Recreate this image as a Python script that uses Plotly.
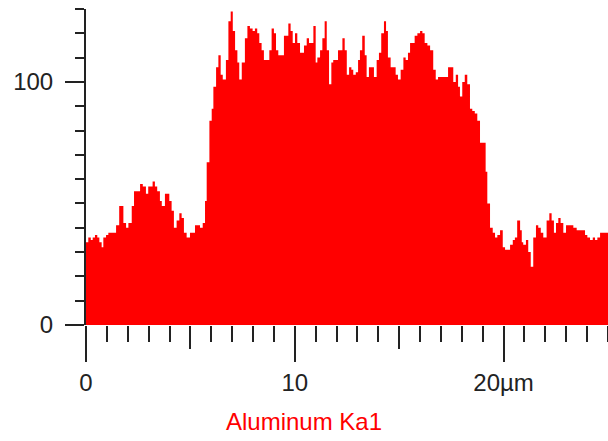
import plotly.graph_objects as go

# Line-scan profile: start position of each step (µm) and counts
position_um = [0.00,0.11,0.23,0.32,0.43,0.54,0.64,0.75,0.83,0.96,1.07,1.28,1.44,1.59,1.79,1.92,2.03,2.19,2.30,2.59,
               2.72,2.87,2.98,3.19,3.30,3.41,3.54,3.63,3.78,3.99,4.10,4.21,4.34,4.47,4.58,4.69,4.82,4.98,5.22,5.46,
               5.59,5.70,5.78,5.91,6.02,6.10,6.23,6.34,6.45,6.55,6.70,6.82,6.93,7.03,7.14,7.25,7.34,7.46,7.61,7.73,
               7.85,7.98,8.09,8.20,8.30,8.41,8.52,8.78,8.89,9.00,9.10,9.21,9.48,9.69,9.80,9.90,10.01,10.12,10.25,10.44,
               10.57,10.68,10.89,11.00,11.08,11.21,11.32,11.43,11.53,11.64,11.75,11.84,12.07,12.28,12.39,12.49,12.60,12.71,12.80,12.92,
               13.03,13.12,13.23,13.35,13.44,13.55,13.79,13.92,14.03,14.14,14.27,14.37,14.46,14.59,14.83,14.94,15.07,15.20,15.31,15.42,
               15.52,15.74,15.87,16.00,16.11,16.22,16.35,16.48,16.63,16.75,16.86,17.34,17.59,17.71,17.82,17.91,18.02,18.14,18.26,18.39,
               18.50,18.62,18.74,18.87,19.14,19.22,19.35,19.48,19.59,19.70,19.83,19.96,20.07,20.31,20.44,20.54,20.65,20.79,20.87,20.94,
               21.07,21.18,21.30,21.42,21.55,21.66,21.78,21.90,22.06,22.19,22.30,22.41,22.51,22.62,22.73,22.86,22.99,23.10,23.34,23.50,
               23.66,23.90,24.01,24.14,24.27,24.38,24.49,24.62,24.78,25.00]
counts = [34,36,35,36,37,36,34,32,36,37,38,38,41,49,42,40,42,49,55,58,
          57,54,57,59,57,55,51,49,54,51,47,40,43,46,44,38,36,38,41,40,
          42,51,67,84,89,98,106,111,103,101,109,125,129,121,113,108,101,108,118,123,
          122,121,122,120,116,113,109,113,122,120,113,111,119,124,121,116,120,116,112,115,
          118,116,123,108,110,113,118,125,113,99,108,109,113,118,113,103,106,105,103,104,
          109,113,119,111,102,106,102,109,112,120,125,121,110,106,103,101,105,110,109,112,
          116,119,120,121,120,116,115,113,105,101,102,106,100,103,98,94,100,103,99,89,
          88,87,84,75,63,50,40,38,36,37,39,32,31,33,35,36,43,39,34,33,
          35,30,24,36,41,40,38,36,43,46,43,38,42,44,42,38,41,41,40,39,
          39,37,36,35,36,35,36,38,38,38]

x_range = [0, 25]
y_range = [0, 130]
x_label_alias = {"20": "20µm"}
mid_ticks_um = [5, 15]
title_text = "Aluminum Ka1"

RED = "#ff0000"
INK = "#222222"
FONT = "Liberation Sans, Arial, sans-serif"

fig = go.Figure()
fig.add_trace(go.Scatter(
    x=position_um, y=counts, mode="lines",
    line=dict(shape="hv", width=0, color=RED),
    fill="tozeroy", fillcolor=RED, hoverinfo="skip", showlegend=False,
))
# helper trace so the overlaying axis (medium ticks) is drawn
fig.add_trace(go.Scatter(x=x_range, y=[0, 0], xaxis="x2", mode="lines",
                         line=dict(width=0), hoverinfo="skip", showlegend=False))

fig.update_layout(
    width=608, height=441,
    margin=dict(l=86, r=0, t=9, b=116),
    paper_bgcolor="white", plot_bgcolor="white",
    font=dict(family=FONT, size=24, color=INK),
    xaxis=dict(
        range=x_range, tickmode="linear", tick0=0, dtick=10,
        labelalias=x_label_alias,
        ticks="outside", ticklen=36, tickwidth=2, tickcolor=INK,
        minor=dict(dtick=1, tick0=0, ticks="outside", ticklen=16, tickwidth=2, tickcolor=INK, showgrid=False),
        showline=False, showgrid=False, zeroline=False,
        tickfont=dict(size=24, color=INK, family=FONT),
        fixedrange=True,
    ),
    xaxis2=dict(
        range=x_range, overlaying="x", anchor="y", side="bottom",
        tickmode="array", tickvals=mid_ticks_um,
        ticks="outside", ticklen=23, tickwidth=2, tickcolor=INK,
        showticklabels=False, showline=False, showgrid=False, zeroline=False,
    ),
    yaxis=dict(
        range=y_range, tickmode="linear", tick0=0, dtick=100,
        ticks="outside", ticklen=19, tickwidth=2, tickcolor=INK,
        minor=dict(dtick=10, tick0=0, ticks="outside", ticklen=9, tickwidth=2, tickcolor=INK, showgrid=False),
        showline=True, linewidth=2, linecolor=INK,
        showgrid=False, zeroline=False,
        ticklabelstandoff=7,
        tickfont=dict(size=24, color=INK, family=FONT),
        fixedrange=True,
    ),
    title=dict(
        text=title_text, x=0.5, xref="container", xanchor="center",
        y=1 - 422 / 441, yref="container", yanchor="middle",
        font=dict(size=24, color=RED, family=FONT),
    ),
)

fig.write_html(
    "out.html",
    config={"displayModeBar": False},
    post_script="document.body.style.margin='0';document.body.style.overflow='hidden';",
)
